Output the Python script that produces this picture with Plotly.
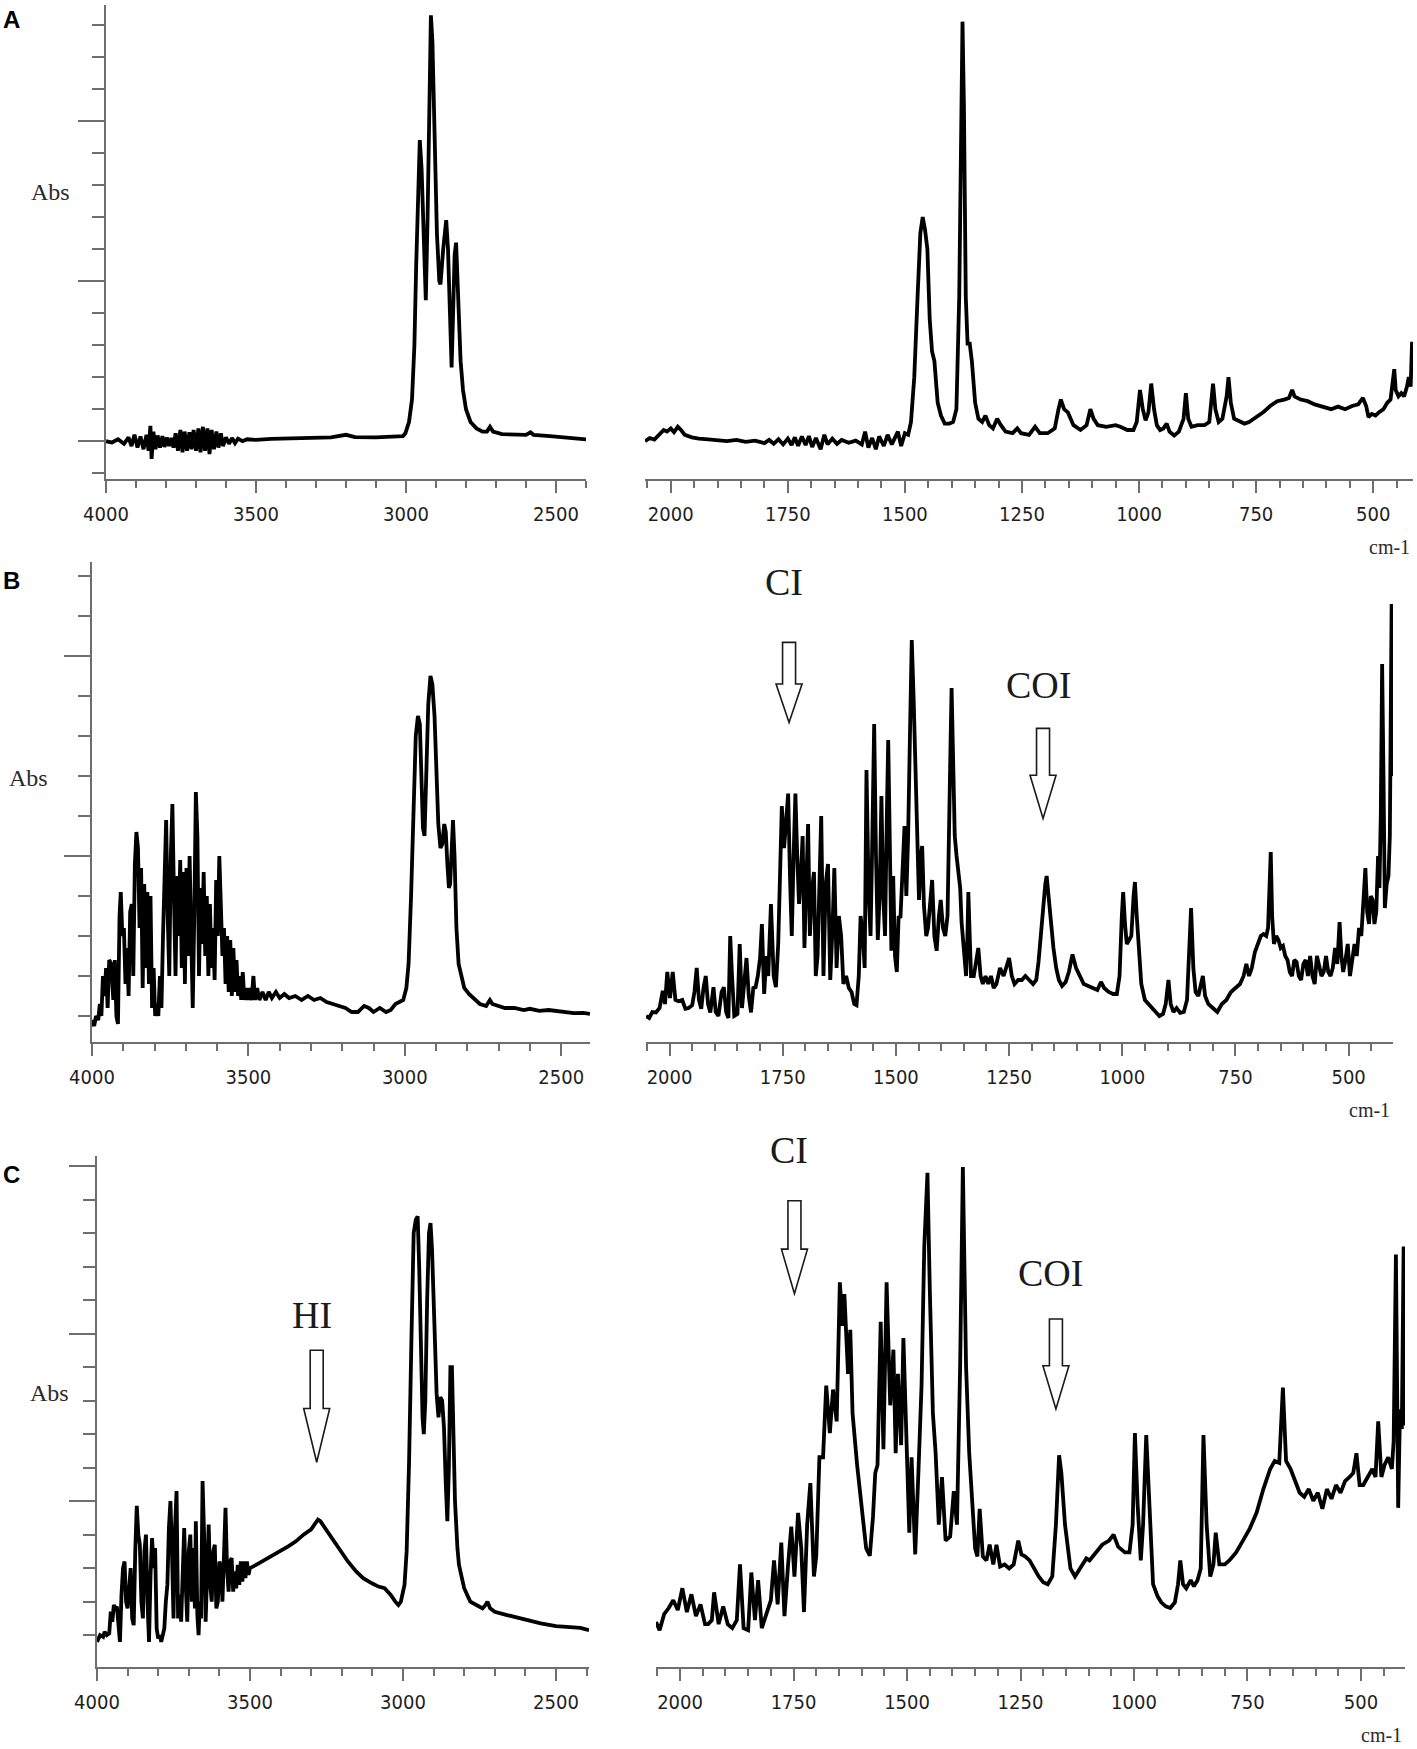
import plotly.graph_objects as go

# ── spectra: (wavenumber cm-1, absorbance, arbitrary units) ──
A_HIGH = [
    (4000, 0.000), (3980, -0.004), (3960, 0.006), (3940, -0.008), (3925, 0.012), (3915, -0.015),
    (3905, 0.020), (3895, -0.020), (3885, 0.015), (3875, -0.025), (3865, 0.020), (3858, -0.030),
    (3852, 0.048), (3848, -0.055), (3842, 0.030), (3835, -0.025), (3828, 0.018), (3820, -0.020),
    (3812, 0.016), (3805, -0.018), (3797, 0.012), (3790, -0.015), (3782, 0.010), (3775, -0.020),
    (3768, 0.025), (3760, -0.030), (3752, 0.035), (3745, -0.035), (3738, 0.030), (3730, -0.030),
    (3722, 0.028), (3715, -0.025), (3708, 0.035), (3700, -0.030), (3692, 0.040), (3685, -0.035),
    (3677, 0.045), (3670, -0.030), (3662, 0.040), (3655, -0.040), (3648, 0.035), (3640, -0.025),
    (3632, 0.030), (3625, -0.020), (3617, 0.025), (3610, -0.015), (3600, 0.012), (3590, -0.008),
    (3580, 0.010), (3570, -0.006), (3560, 0.008), (3545, 0.000), (3530, 0.006), (3500, 0.004),
    (3450, 0.007), (3400, 0.008), (3350, 0.009), (3300, 0.010), (3250, 0.012), (3200, 0.020),
    (3170, 0.013), (3100, 0.012), (3050, 0.013), (3010, 0.016), (3002, 0.025), (2990, 0.060),
    (2980, 0.130), (2972, 0.300), (2966, 0.550), (2960, 0.800), (2954, 0.940), (2948, 0.850),
    (2940, 0.600), (2934, 0.440), (2928, 0.700), (2922, 1.100), (2917, 1.330), (2912, 1.250),
    (2905, 0.950), (2897, 0.650), (2889, 0.500), (2885, 0.490), (2876, 0.600), (2866, 0.690),
    (2860, 0.600), (2853, 0.350), (2848, 0.230), (2843, 0.400), (2838, 0.580), (2833, 0.620),
    (2826, 0.450), (2818, 0.250), (2810, 0.160), (2800, 0.100), (2785, 0.060), (2765, 0.040),
    (2745, 0.030), (2730, 0.030), (2720, 0.045), (2710, 0.030), (2680, 0.022), (2640, 0.020),
    (2600, 0.020), (2585, 0.028), (2575, 0.020), (2520, 0.016), (2480, 0.012), (2440, 0.010),
    (2400, 0.006),
]

A_LOW = [
    (2055, 0.000), (2045, 0.010), (2035, 0.005), (2025, 0.020), (2015, 0.035), (2008, 0.030),
    (2000, 0.040), (1993, 0.028), (1985, 0.045), (1978, 0.035), (1970, 0.020), (1955, 0.012),
    (1940, 0.008), (1920, 0.006), (1900, 0.003), (1880, 0.000), (1860, 0.004), (1840, -0.002),
    (1820, 0.002), (1800, -0.006), (1790, 0.004), (1780, -0.008), (1770, 0.006), (1760, -0.010),
    (1750, 0.008), (1742, -0.012), (1735, 0.012), (1728, -0.014), (1720, 0.015), (1712, -0.012),
    (1705, 0.016), (1698, -0.018), (1690, 0.010), (1680, -0.025), (1672, 0.020), (1665, -0.010),
    (1655, 0.008), (1645, -0.008), (1635, 0.004), (1620, -0.005), (1605, 0.002), (1592, -0.010),
    (1585, 0.030), (1578, -0.020), (1570, 0.010), (1562, -0.025), (1555, 0.015), (1545, -0.015),
    (1537, 0.020), (1528, -0.010), (1515, 0.030), (1508, -0.015), (1500, 0.025), (1493, 0.020),
    (1487, 0.060), (1480, 0.200), (1473, 0.450), (1467, 0.650), (1462, 0.700), (1457, 0.660),
    (1452, 0.600), (1447, 0.380), (1442, 0.280), (1437, 0.250), (1430, 0.120), (1423, 0.080),
    (1415, 0.055), (1405, 0.055), (1397, 0.060), (1390, 0.100), (1384, 0.450), (1380, 1.050),
    (1377, 1.310), (1374, 1.050), (1370, 0.450), (1366, 0.300), (1362, 0.310), (1357, 0.250),
    (1350, 0.120), (1343, 0.070), (1335, 0.060), (1328, 0.080), (1320, 0.050), (1312, 0.040),
    (1303, 0.070), (1295, 0.050), (1285, 0.030), (1270, 0.025), (1260, 0.040), (1252, 0.025),
    (1235, 0.020), (1222, 0.045), (1212, 0.025), (1195, 0.025), (1180, 0.040), (1172, 0.100),
    (1167, 0.130), (1160, 0.100), (1152, 0.090), (1140, 0.050), (1125, 0.035), (1112, 0.050),
    (1104, 0.100), (1097, 0.070), (1088, 0.050), (1070, 0.045), (1050, 0.050), (1040, 0.045),
    (1025, 0.035), (1012, 0.035), (1005, 0.060), (998, 0.160), (992, 0.100), (986, 0.065),
    (980, 0.090), (974, 0.180), (968, 0.100), (962, 0.050), (955, 0.035), (948, 0.040),
    (941, 0.055), (935, 0.030), (925, 0.018), (915, 0.030), (905, 0.070), (900, 0.150),
    (895, 0.070), (888, 0.045), (875, 0.050), (860, 0.050), (850, 0.060), (846, 0.120),
    (842, 0.180), (837, 0.100), (830, 0.060), (822, 0.070), (813, 0.140), (809, 0.200),
    (804, 0.120), (797, 0.070), (785, 0.060), (775, 0.055), (765, 0.060), (750, 0.075),
    (735, 0.090), (720, 0.110), (705, 0.125), (690, 0.130), (680, 0.135), (673, 0.160),
    (668, 0.140), (655, 0.130), (640, 0.125), (625, 0.115), (605, 0.105), (590, 0.100),
    (575, 0.108), (560, 0.100), (545, 0.110), (532, 0.115), (522, 0.135), (515, 0.110),
    (510, 0.075), (503, 0.085), (495, 0.080), (488, 0.090), (478, 0.100), (470, 0.120),
    (463, 0.130), (458, 0.200), (455, 0.225), (452, 0.160), (446, 0.140), (440, 0.150),
    (434, 0.140), (428, 0.170), (424, 0.200), (420, 0.170), (417, 0.310), (416, 0.300),
]

B_HIGH = [
    (4000, 0.09), (3993, 0.075), (3987, 0.10), (3980, 0.09), (3975, 0.13), (3970, 0.10),
    (3965, 0.20), (3960, 0.15), (3955, 0.22), (3950, 0.12), (3945, 0.24), (3938, 0.23),
    (3932, 0.14), (3927, 0.24), (3922, 0.10), (3917, 0.08), (3912, 0.35), (3908, 0.41),
    (3903, 0.30), (3898, 0.32), (3893, 0.18), (3888, 0.27), (3883, 0.15), (3878, 0.36),
    (3873, 0.38), (3868, 0.20), (3863, 0.48), (3858, 0.56), (3853, 0.52), (3848, 0.32),
    (3843, 0.47), (3838, 0.17), (3833, 0.43), (3828, 0.22), (3823, 0.41), (3818, 0.18),
    (3813, 0.40), (3808, 0.12), (3803, 0.22), (3798, 0.10), (3793, 0.13), (3788, 0.10),
    (3783, 0.20), (3778, 0.12), (3773, 0.30), (3768, 0.42), (3763, 0.59), (3758, 0.35),
    (3753, 0.20), (3748, 0.50), (3743, 0.63), (3738, 0.40), (3733, 0.20), (3728, 0.45),
    (3723, 0.30), (3718, 0.49), (3713, 0.22), (3708, 0.46), (3703, 0.18), (3698, 0.47),
    (3693, 0.25), (3688, 0.50), (3683, 0.30), (3678, 0.12), (3673, 0.35), (3668, 0.66),
    (3663, 0.55), (3658, 0.20), (3653, 0.42), (3648, 0.28), (3643, 0.46), (3638, 0.25),
    (3633, 0.40), (3628, 0.20), (3623, 0.38), (3618, 0.22), (3613, 0.32), (3608, 0.19),
    (3603, 0.44), (3598, 0.30), (3593, 0.50), (3588, 0.33), (3583, 0.25), (3578, 0.32),
    (3573, 0.18), (3568, 0.30), (3563, 0.16), (3558, 0.29), (3553, 0.15), (3548, 0.27),
    (3543, 0.16), (3538, 0.24), (3533, 0.15), (3528, 0.20), (3523, 0.14), (3518, 0.21),
    (3513, 0.14), (3508, 0.17), (3503, 0.14), (3498, 0.17), (3490, 0.14), (3484, 0.20),
    (3479, 0.14), (3472, 0.17), (3465, 0.14), (3455, 0.16), (3445, 0.14), (3435, 0.16),
    (3425, 0.145), (3412, 0.16), (3400, 0.145), (3385, 0.155), (3370, 0.145), (3350, 0.15),
    (3330, 0.14), (3310, 0.15), (3290, 0.14), (3270, 0.145), (3250, 0.135), (3230, 0.13),
    (3210, 0.125), (3190, 0.12), (3170, 0.11), (3150, 0.11), (3130, 0.125), (3115, 0.12),
    (3100, 0.11), (3080, 0.12), (3060, 0.11), (3045, 0.115), (3030, 0.13), (3015, 0.135),
    (3005, 0.14), (2995, 0.17), (2988, 0.23), (2980, 0.40), (2972, 0.65), (2965, 0.80),
    (2958, 0.85), (2952, 0.83), (2947, 0.70), (2942, 0.57), (2937, 0.55), (2931, 0.70),
    (2925, 0.88), (2918, 0.95), (2912, 0.93), (2905, 0.85), (2899, 0.70), (2893, 0.58),
    (2886, 0.52), (2880, 0.53), (2874, 0.58), (2869, 0.56), (2864, 0.48), (2859, 0.42),
    (2855, 0.43), (2850, 0.55), (2846, 0.59), (2841, 0.50), (2835, 0.32), (2828, 0.23),
    (2820, 0.20), (2810, 0.17), (2795, 0.155), (2780, 0.145), (2760, 0.13), (2740, 0.125),
    (2728, 0.14), (2720, 0.13), (2700, 0.125), (2680, 0.12), (2650, 0.12), (2620, 0.115),
    (2600, 0.118), (2570, 0.113), (2540, 0.115), (2500, 0.11), (2460, 0.107), (2430, 0.108),
    (2408, 0.105),
]

B_LOW = [
    (2052, 0.10), (2045, 0.095), (2038, 0.11), (2030, 0.109), (2022, 0.12), (2015, 0.163),
    (2010, 0.13), (2005, 0.21), (1999, 0.145), (1993, 0.21), (1987, 0.14), (1980, 0.137),
    (1972, 0.14), (1965, 0.118), (1958, 0.12), (1950, 0.127), (1945, 0.16), (1940, 0.22),
    (1935, 0.14), (1930, 0.118), (1925, 0.17), (1920, 0.20), (1915, 0.13), (1910, 0.109),
    (1903, 0.172), (1898, 0.11), (1892, 0.10), (1885, 0.16), (1880, 0.172), (1875, 0.11),
    (1870, 0.095), (1866, 0.30), (1862, 0.20), (1857, 0.10), (1850, 0.105), (1845, 0.28),
    (1840, 0.12), (1835, 0.19), (1830, 0.245), (1825, 0.15), (1820, 0.109), (1815, 0.17),
    (1810, 0.172), (1805, 0.20), (1800, 0.245), (1796, 0.33), (1791, 0.155), (1786, 0.25),
    (1782, 0.20), (1776, 0.38), (1770, 0.20), (1765, 0.172), (1760, 0.28), (1756, 0.45),
    (1752, 0.625), (1747, 0.52), (1742, 0.60), (1738, 0.656), (1734, 0.45), (1730, 0.30),
    (1726, 0.50), (1722, 0.656), (1718, 0.50), (1714, 0.38), (1710, 0.45), (1706, 0.55),
    (1702, 0.27), (1698, 0.45), (1694, 0.58), (1690, 0.30), (1685, 0.42), (1681, 0.46),
    (1677, 0.20), (1673, 0.25), (1668, 0.50), (1665, 0.60), (1660, 0.20), (1655, 0.43),
    (1650, 0.48), (1645, 0.19), (1640, 0.32), (1636, 0.47), (1631, 0.22), (1626, 0.35),
    (1621, 0.30), (1616, 0.18), (1610, 0.20), (1604, 0.17), (1598, 0.16), (1592, 0.13),
    (1587, 0.127), (1582, 0.20), (1578, 0.35), (1573, 0.30), (1569, 0.22), (1565, 0.715),
    (1560, 0.40), (1556, 0.30), (1552, 0.55), (1548, 0.83), (1544, 0.50), (1540, 0.29),
    (1536, 0.40), (1532, 0.65), (1528, 0.40), (1524, 0.30), (1520, 0.60), (1517, 0.79),
    (1513, 0.50), (1510, 0.263), (1506, 0.45), (1502, 0.25), (1498, 0.21), (1494, 0.35),
    (1490, 0.345), (1485, 0.45), (1481, 0.575), (1477, 0.40), (1473, 0.55), (1469, 0.80),
    (1465, 1.04), (1461, 0.90), (1457, 0.706), (1453, 0.55), (1449, 0.39), (1445, 0.50),
    (1442, 0.525), (1438, 0.375), (1433, 0.30), (1429, 0.32), (1424, 0.40), (1420, 0.44),
    (1415, 0.30), (1410, 0.263), (1405, 0.35), (1401, 0.39), (1396, 0.32), (1391, 0.30),
    (1386, 0.35), (1382, 0.55), (1379, 0.80), (1377, 0.92), (1374, 0.75), (1370, 0.55),
    (1366, 0.50), (1362, 0.45), (1358, 0.42), (1355, 0.335), (1350, 0.25), (1345, 0.20),
    (1342, 0.30), (1340, 0.41), (1337, 0.30), (1334, 0.20), (1328, 0.20), (1322, 0.25),
    (1318, 0.27), (1313, 0.20), (1308, 0.18), (1302, 0.20), (1296, 0.18), (1290, 0.20),
    (1284, 0.17), (1278, 0.18), (1270, 0.22), (1262, 0.20), (1255, 0.23), (1250, 0.245),
    (1244, 0.20), (1238, 0.18), (1230, 0.19), (1222, 0.19), (1214, 0.20), (1205, 0.19),
    (1197, 0.18), (1190, 0.19), (1185, 0.235), (1180, 0.30), (1175, 0.38), (1170, 0.43),
    (1167, 0.45), (1163, 0.40), (1158, 0.32), (1152, 0.27), (1146, 0.22), (1140, 0.19),
    (1133, 0.175), (1125, 0.185), (1118, 0.21), (1110, 0.254), (1102, 0.22), (1094, 0.20),
    (1085, 0.18), (1075, 0.175), (1065, 0.17), (1055, 0.165), (1047, 0.185), (1040, 0.17),
    (1030, 0.16), (1020, 0.155), (1012, 0.155), (1006, 0.20), (1001, 0.35), (998, 0.41),
    (994, 0.33), (990, 0.28), (985, 0.29), (980, 0.30), (975, 0.40), (972, 0.435),
    (968, 0.35), (963, 0.25), (958, 0.18), (950, 0.14), (942, 0.13), (935, 0.12),
    (927, 0.11), (918, 0.10), (910, 0.105), (904, 0.13), (898, 0.19), (893, 0.13),
    (887, 0.11), (880, 0.12), (872, 0.108), (864, 0.11), (857, 0.14), (852, 0.25),
    (848, 0.37), (843, 0.22), (838, 0.16), (832, 0.15), (826, 0.18), (822, 0.20),
    (817, 0.15), (810, 0.13), (800, 0.12), (790, 0.11), (780, 0.13), (770, 0.14),
    (760, 0.16), (750, 0.17), (740, 0.18), (732, 0.20), (726, 0.23), (720, 0.20),
    (714, 0.22), (707, 0.26), (700, 0.28), (694, 0.30), (688, 0.305), (682, 0.30),
    (678, 0.32), (674, 0.45), (672, 0.51), (669, 0.35), (665, 0.28), (660, 0.30),
    (655, 0.29), (650, 0.27), (645, 0.275), (640, 0.25), (635, 0.24), (630, 0.21),
    (625, 0.20), (620, 0.24), (615, 0.235), (610, 0.20), (605, 0.19), (600, 0.23),
    (595, 0.24), (590, 0.20), (585, 0.25), (580, 0.20), (575, 0.18), (570, 0.25),
    (565, 0.22), (560, 0.20), (555, 0.21), (550, 0.25), (545, 0.21), (540, 0.20),
    (535, 0.22), (530, 0.27), (525, 0.23), (520, 0.335), (516, 0.25), (512, 0.21),
    (507, 0.24), (502, 0.28), (497, 0.20), (492, 0.24), (487, 0.28), (482, 0.25),
    (477, 0.32), (472, 0.30), (467, 0.38), (463, 0.47), (459, 0.36), (455, 0.33),
    (451, 0.40), (447, 0.39), (443, 0.33), (439, 0.36), (435, 0.50), (432, 0.42),
    (429, 0.60), (426, 0.98), (423, 0.70), (420, 0.37), (416, 0.43), (412, 0.45),
    (409, 0.55), (407, 0.90), (405, 1.13), (403, 0.80), (402, 0.70),
]

C_HIGH = [
    (4000, 0.08), (3990, 0.10), (3980, 0.095), (3975, 0.11), (3968, 0.10), (3960, 0.105),
    (3955, 0.17), (3950, 0.14), (3945, 0.19), (3940, 0.18), (3935, 0.185), (3930, 0.12),
    (3925, 0.08), (3920, 0.22), (3915, 0.30), (3910, 0.32), (3905, 0.20), (3900, 0.18),
    (3895, 0.25), (3890, 0.30), (3885, 0.15), (3880, 0.13), (3875, 0.35), (3870, 0.486),
    (3865, 0.40), (3860, 0.37), (3855, 0.20), (3850, 0.15), (3845, 0.35), (3840, 0.40),
    (3835, 0.20), (3830, 0.08), (3825, 0.28), (3820, 0.39), (3815, 0.30), (3810, 0.36),
    (3805, 0.12), (3800, 0.09), (3795, 0.10), (3790, 0.08), (3785, 0.10), (3780, 0.12),
    (3775, 0.20), (3770, 0.25), (3765, 0.42), (3760, 0.50), (3755, 0.35), (3750, 0.15),
    (3745, 0.42), (3740, 0.53), (3735, 0.15), (3730, 0.22), (3725, 0.14), (3720, 0.30),
    (3715, 0.42), (3710, 0.25), (3705, 0.14), (3700, 0.35), (3695, 0.40), (3690, 0.20),
    (3685, 0.36), (3680, 0.18), (3677, 0.44), (3672, 0.16), (3668, 0.10), (3664, 0.20),
    (3660, 0.15), (3655, 0.56), (3650, 0.40), (3645, 0.14), (3640, 0.30), (3635, 0.43),
    (3630, 0.25), (3625, 0.20), (3620, 0.35), (3615, 0.37), (3610, 0.18), (3605, 0.20),
    (3600, 0.32), (3595, 0.30), (3590, 0.20), (3585, 0.35), (3580, 0.48), (3575, 0.30),
    (3570, 0.23), (3565, 0.32), (3560, 0.33), (3555, 0.23), (3550, 0.29), (3545, 0.24),
    (3540, 0.31), (3535, 0.25), (3530, 0.32), (3525, 0.26), (3520, 0.32), (3515, 0.27),
    (3510, 0.32), (3505, 0.28), (3500, 0.30), (3480, 0.31), (3460, 0.32), (3440, 0.33),
    (3420, 0.34), (3400, 0.35), (3375, 0.365), (3350, 0.38), (3325, 0.40), (3300, 0.416),
    (3290, 0.43), (3278, 0.445), (3270, 0.44), (3255, 0.42), (3240, 0.40), (3220, 0.375),
    (3205, 0.358), (3180, 0.32), (3153, 0.29), (3130, 0.27), (3100, 0.254), (3080, 0.245),
    (3060, 0.24), (3040, 0.22), (3025, 0.20), (3015, 0.19), (3007, 0.20), (2995, 0.25),
    (2988, 0.35), (2980, 0.62), (2972, 1.00), (2965, 1.30), (2958, 1.34), (2952, 1.35),
    (2947, 1.20), (2942, 0.95), (2936, 0.75), (2932, 0.70), (2927, 0.80), (2921, 1.10),
    (2915, 1.30), (2910, 1.33), (2905, 1.25), (2898, 1.05), (2890, 0.82), (2884, 0.75),
    (2878, 0.81), (2872, 0.80), (2866, 0.72), (2860, 0.55), (2855, 0.44), (2850, 0.60),
    (2845, 0.90), (2840, 0.90), (2835, 0.70), (2830, 0.50), (2822, 0.36), (2817, 0.31),
    (2800, 0.24), (2780, 0.20), (2760, 0.19), (2740, 0.18), (2730, 0.19), (2724, 0.20),
    (2715, 0.18), (2700, 0.17), (2660, 0.16), (2600, 0.145), (2550, 0.135), (2500, 0.127),
    (2450, 0.125), (2420, 0.122), (2392, 0.115),
]

C_LOW = [
    (2053, 0.139), (2045, 0.115), (2035, 0.163), (2025, 0.181), (2015, 0.204), (2005, 0.175),
    (1995, 0.240), (1985, 0.169), (1975, 0.222), (1965, 0.157), (1955, 0.192), (1945, 0.133),
    (1938, 0.133), (1930, 0.145), (1925, 0.228), (1915, 0.133), (1905, 0.186), (1895, 0.133),
    (1885, 0.121), (1875, 0.145), (1868, 0.311), (1860, 0.121), (1850, 0.115), (1843, 0.287),
    (1835, 0.145), (1828, 0.264), (1820, 0.121), (1810, 0.163), (1800, 0.204), (1793, 0.323),
    (1785, 0.192), (1777, 0.376), (1770, 0.157), (1762, 0.311), (1755, 0.424), (1748, 0.275),
    (1740, 0.465), (1733, 0.359), (1727, 0.169), (1720, 0.430), (1713, 0.554), (1705, 0.275),
    (1700, 0.335), (1693, 0.631), (1685, 0.631), (1678, 0.845), (1670, 0.703), (1663, 0.833),
    (1655, 0.738), (1648, 1.153), (1642, 1.023), (1638, 1.118), (1630, 0.880), (1625, 1.011),
    (1620, 0.762), (1610, 0.608), (1600, 0.489), (1590, 0.359), (1582, 0.337), (1575, 0.453),
    (1570, 0.584), (1565, 0.608), (1558, 1.035), (1552, 0.655), (1545, 1.153), (1537, 0.786),
    (1530, 0.952), (1525, 0.643), (1520, 0.880), (1513, 0.667), (1508, 0.987), (1500, 0.572),
    (1495, 0.406), (1490, 0.631), (1482, 0.341), (1475, 0.584), (1468, 0.845), (1462, 1.260),
    (1455, 1.480), (1450, 1.141), (1443, 0.762), (1437, 0.643), (1430, 0.430), (1423, 0.572),
    (1415, 0.382), (1405, 0.394), (1397, 0.530), (1390, 0.430), (1383, 0.904), (1377, 1.497),
    (1370, 0.904), (1363, 0.643), (1357, 0.525), (1350, 0.359), (1345, 0.335), (1340, 0.477),
    (1333, 0.335), (1325, 0.323), (1318, 0.370), (1310, 0.311), (1303, 0.370), (1295, 0.305),
    (1285, 0.311), (1275, 0.299), (1265, 0.311), (1255, 0.382), (1248, 0.341), (1240, 0.335),
    (1230, 0.323), (1220, 0.299), (1210, 0.275), (1200, 0.258), (1190, 0.252), (1180, 0.275),
    (1172, 0.430), (1165, 0.637), (1160, 0.584), (1152, 0.430), (1140, 0.299), (1130, 0.275),
    (1118, 0.299), (1105, 0.329), (1098, 0.323), (1085, 0.347), (1070, 0.370), (1055, 0.382),
    (1045, 0.400), (1035, 0.364), (1020, 0.347), (1010, 0.347), (1003, 0.430), (998, 0.703),
    (992, 0.489), (985, 0.323), (980, 0.430), (973, 0.697), (965, 0.430), (958, 0.252),
    (948, 0.216), (940, 0.198), (930, 0.186), (920, 0.181), (910, 0.198), (903, 0.252),
    (898, 0.323), (892, 0.252), (885, 0.240), (875, 0.264), (868, 0.246), (860, 0.264),
    (853, 0.299), (847, 0.697), (840, 0.430), (832, 0.275), (825, 0.311), (820, 0.406),
    (812, 0.311), (800, 0.311), (790, 0.323), (775, 0.347), (760, 0.382), (745, 0.418),
    (730, 0.465), (715, 0.536), (700, 0.596), (690, 0.620), (680, 0.614), (672, 0.839),
    (665, 0.620), (655, 0.596), (645, 0.560), (635, 0.525), (625, 0.513), (615, 0.536),
    (605, 0.501), (595, 0.525), (585, 0.477), (575, 0.536), (565, 0.507), (555, 0.548),
    (545, 0.525), (535, 0.560), (525, 0.572), (517, 0.584), (510, 0.643), (503, 0.548),
    (495, 0.548), (485, 0.572), (475, 0.596), (468, 0.572), (462, 0.738), (455, 0.572),
    (448, 0.608), (440, 0.631), (432, 0.596), (428, 0.678), (423, 1.236), (418, 0.480),
    (414, 0.774), (410, 0.715), (406, 1.260), (403, 0.726),
]

PANEL_LETTERS = ["A", "B", "C"]

# index label markers: (text, panel, side, wavenumber, absorbance at arrow tip)
MARKERS = [
    ("CI", 1, "low", 1736, 0.834),
    ("COI", 1, "low", 1175, 0.594),
    ("HI", 2, "high", 3282, 0.616),
    ("CI", 2, "low", 1748, 1.119),
    ("COI", 2, "low", 1172, 0.775),
]
# arrow length and gap from arrow top to label centre, pixels
ARROW_SIZE = [(80, 60), (90, 43), (112, 35), (93, 51), (90, 46)]

# ── page geometry (pixels) ──
W, H = 1417, 1749
PANELS = [
    dict(left=(106, 586), right=(645, 1413), ytb=(5, 479), yr=[-0.118, 1.362],
         xl=[4000, 2400], xr=[2055, 415]),
    dict(left=(92, 590), right=(646, 1393), ytb=(562, 1042), yr=[0.035, 1.235],
         xl=[4000, 2408], xr=[2052, 402]),
    dict(left=(97, 589), right=(656, 1405), ytb=(1156, 1667), yr=[0.005, 1.53],
         xl=[4000, 2392], xr=[2053, 403]),
]
ABS_POS = [(50, 192), (28, 778), (49, 1393)]

SPECTRA = [(A_HIGH, A_LOW), (B_HIGH, B_LOW), (C_HIGH, C_LOW)]

TICK_FONT = dict(family="Liberation Sans Narrow, Arial Narrow, DejaVu Sans Condensed, sans-serif",
                 size=20, color="#1e1e1e")
SERIF = "Liberation Serif, Times New Roman, serif"
AXIS_COLOR = "#6e6e6e"

fig = go.Figure()
layout = dict(width=W, height=H, margin=dict(l=0, r=0, t=0, b=0, autoexpand=False),
              paper_bgcolor="white", plot_bgcolor="white", showlegend=False)
annotations = []
shapes = []


def px_dom(a, b, total):
    return [a / total, b / total]


for i, (p, (hi, lo)) in enumerate(zip(PANELS, SPECTRA)):
    nl, nr = 2 * i + 1, 2 * i + 2
    ydom = [1 - p["ytb"][1] / H, 1 - p["ytb"][0] / H]
    for n, data, span, xrange, side in ((nl, hi, p["left"], p["xl"], "high"),
                                        (nr, lo, p["right"], p["xr"], "low")):
        sfx = "" if n == 1 else str(n)
        fig.add_trace(go.Scatter(
            x=[d[0] for d in data], y=[d[1] for d in data], mode="lines",
            line=dict(color="black", width=3.8), xaxis="x" + sfx, yaxis="y" + sfx,
            hoverinfo="skip"))
        major = 500 if side == "high" else 250
        minor = 100 if side == "high" else 50
        layout["xaxis" + sfx] = dict(
            domain=px_dom(*span, W), range=xrange, anchor="y" + sfx, automargin=False,
            showline=True, linecolor=AXIS_COLOR, linewidth=2,
            ticks="outside", ticklen=12, tickwidth=2, tickcolor=AXIS_COLOR,
            tick0=0, dtick=major, tickfont=TICK_FONT, ticklabelstandoff=4,
            minor=dict(dtick=minor, tick0=0, ticks="outside", ticklen=7, tickwidth=2,
                       tickcolor=AXIS_COLOR, showgrid=False),
            showgrid=False, zeroline=False, fixedrange=True)
        ya = dict(domain=ydom, range=p["yr"], anchor="x" + sfx, showgrid=False,
                  zeroline=False, showticklabels=False, fixedrange=True, automargin=False)
        if side == "high":
            ya.update(showline=True, linecolor=AXIS_COLOR, linewidth=2,
                      ticks="outside", ticklen=26, tickwidth=2, tickcolor=AXIS_COLOR,
                      tick0=0, dtick=0.5,
                      minor=dict(dtick=0.1, tick0=0, ticks="outside", ticklen=12,
                                 tickwidth=2, tickcolor=AXIS_COLOR, showgrid=False))
        else:
            ya.update(visible=False)
        layout["yaxis" + sfx] = ya

    # panel letter, "Abs", "cm-1"
    top, bot = p["ytb"]
    annotations.append(dict(text="<b>%s</b>" % PANEL_LETTERS[i], xref="paper", yref="paper",
                            x=11 / W, y=1 - (top + 15 if i == 0 else top + 18) / H,
                            showarrow=False, xanchor="center", yanchor="middle",
                            font=dict(family="Liberation Sans, Arial, sans-serif", size=24,
                                      color="black")))
    abs_x, abs_y = ABS_POS[i]
    annotations.append(dict(text="Abs", xref="paper", yref="paper", x=abs_x / W,
                            y=1 - abs_y / H, showarrow=False, xanchor="center",
                            yanchor="middle",
                            font=dict(family=SERIF, size=24, color="#2a2a2a")))
    annotations.append(dict(text="cm-1", xref="paper", yref="paper",
                            x=(p["right"][1] - 24) / W, y=1 - (bot + 68) / H,
                            showarrow=False, xanchor="center", yanchor="middle",
                            font=dict(family=SERIF, size=20, color="#2a2a2a")))

# hollow block arrows with their index labels
for (text, pi, side, wn, tip), (length, gap) in zip(MARKERS, ARROW_SIZE):
    n = 2 * pi + (1 if side == "high" else 2)
    sfx = "" if n == 1 else str(n)
    head = length * 0.48
    hw, sw = 13, 6.5
    path = ("M 0 0 L %.1f %.1f L %.1f %.1f L %.1f %.1f L %.1f %.1f L %.1f %.1f L %.1f %.1f Z"
            % (-hw, head, -sw, head, -sw, length, sw, length, sw, head, hw, head))
    shapes.append(dict(type="path", xref="x" + sfx, yref="y" + sfx,
                       xsizemode="pixel", ysizemode="pixel", xanchor=wn, yanchor=tip,
                       path=path, line=dict(color="#1a1a1a", width=1.6),
                       fillcolor="white"))
    annotations.append(dict(text=text, xref="x" + sfx, yref="y" + sfx, x=wn, y=tip,
                            xshift=-5, yshift=length + gap, showarrow=False,
                            xanchor="center", yanchor="middle",
                            font=dict(family=SERIF, size=38, color="#1a1a1a")))

layout["annotations"] = annotations
layout["shapes"] = shapes
fig.update_layout(**layout)

fig.write_html("out.html", config={"displayModeBar": False},
               post_script="document.body.style.margin='0';")
